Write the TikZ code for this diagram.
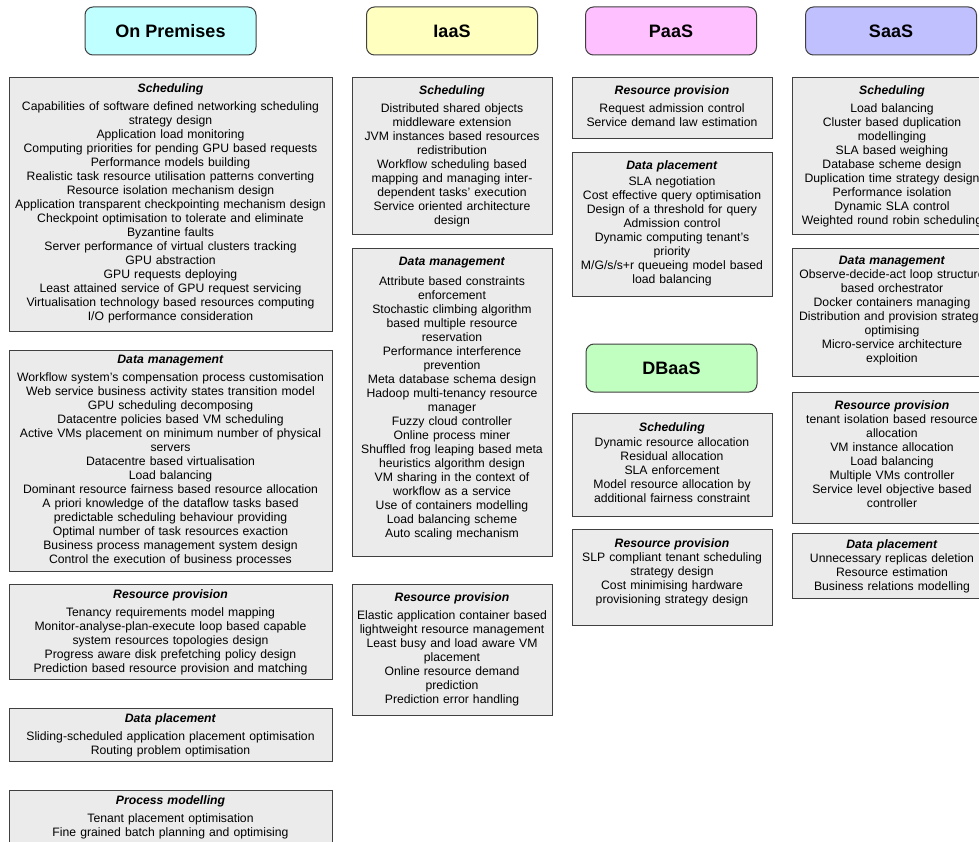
\documentclass[tikz,border=0pt]{standalone}
\usepackage{fontspec}
\setmainfont{Liberation Sans}

\definecolor{premfill}{HTML}{C0FFFF}
\definecolor{iaasfill}{HTML}{FFFFC0}
\definecolor{paasfill}{HTML}{FFC0FF}
\definecolor{saasfill}{HTML}{C0C0FF}
\definecolor{dbaasfill}{HTML}{C0FFC0}
\definecolor{boxgray}{HTML}{EBEBEB}
\definecolor{edgegray}{HTML}{404040}

\tikzset{
  hdrbox/.style={draw=edgegray, line width=1pt, rounded corners=8pt,
    minimum width=171pt, minimum height=48pt,
    font=\fontsize{18}{20}\selectfont\bfseries},
  catbox/.style={draw=edgegray, fill=boxgray, line width=1pt, anchor=north,
    align=center, inner xsep=2pt, inner ysep=8pt,
    font=\fontsize{12.2}{14}\selectfont},
  premcat/.style={catbox, text width=319pt, inner ysep=5pt},
  smallcat/.style={catbox, text width=196pt},
}

\begin{document}
\begin{tikzpicture}[x=1pt,y=-1pt]
  % page frame (979 x 842)
  \useasboundingbox (0,0) rectangle (979,842);
  \clip (0,0) rectangle (979,842);
  \fill[white] (0,0) rectangle (979,842);

  % Headers
  \node[hdrbox, fill=premfill] (prem) at (170.5,31) {On Premises};
  \node[hdrbox, fill=iaasfill] (iaas) at (452,31) {IaaS};
  \node[hdrbox, fill=paasfill] (paas) at (671,31) {PaaS};
  \node[hdrbox, fill=saasfill] (saas) at (891,31) {SaaS};
  \node[hdrbox, fill=dbaasfill] (dbaas) at (671.5,368) {DBaaS};

  % On Premises column
  \node[premcat, inner ysep=6pt] (premsched) at (170.5,77) {\textbf{\textit{Scheduling}}\\[4pt]
    Capabilities of software defined networking scheduling\\
    strategy design\\
    Application load monitoring\\
    Computing priorities for pending GPU based requests\\
    Performance models building\\
    Realistic task resource utilisation patterns converting\\
    Resource isolation mechanism design\\
    Application transparent checkpointing mechanism design\\
    Checkpoint optimisation to tolerate and eliminate\\
    Byzantine faults\\
    Server performance of virtual clusters tracking\\
    GPU abstraction\\
    GPU requests deploying\\
    Least attained service of GPU request servicing\\
    Virtualisation technology based resources computing\\
    I/O performance consideration\rule[-5pt]{0pt}{5pt}};
  \node[premcat] (premdata) at (170.5,350) {\textbf{\textit{Data management}}\\[4pt]
    Workflow system’s compensation process customisation\\
    Web service business activity states transition model\\
    GPU scheduling decomposing\\
    Datacentre policies based VM scheduling\\
    Active VMs placement on minimum number of physical\\
    servers\\
    Datacentre based virtualisation\\
    Load balancing\\
    Dominant resource fairness based resource allocation\\
    A priori knowledge of the dataflow tasks based\\
    predictable scheduling behaviour providing\\
    Optimal number of task resources exaction\\
    Business process management system design\\
    Control the execution of business processes};
  \node[premcat] (premres) at (170.5,584) {\textbf{\textit{Resource provision}}\\[4pt]
    Tenancy requirements model mapping\\
    Monitor-analyse-plan-execute loop based capable\\
    system resources topologies design\\
    Progress aware disk prefetching policy design\\
    Prediction based resource provision and matching};
  \node[premcat] (premplace) at (170.5,708) {\textbf{\textit{Data placement}}\\[4pt]
    Sliding-scheduled application placement optimisation\\
    Routing problem optimisation};
  \node[premcat] (premproc) at (170.5,790) {\textbf{\textit{Process modelling}}\\[4pt]
    Tenant placement optimisation\\
    Fine grained batch planning and optimising};

  % IaaS column
  \node[smallcat] (iaassched) at (452,77) {\textbf{\textit{Scheduling}}\\[4pt]
    Distributed shared objects\\
    middleware extension\\
    JVM instances based resources\\
    redistribution\\
    Workflow scheduling based\\
    mapping and managing inter-\\
    dependent tasks’ execution\\
    Service oriented architecture\\
    design};
  \node[smallcat, inner ysep=9pt] (iaasdata) at (452,248) {\textbf{\textit{Data management}}\\[6pt]
    Attribute based constraints\\
    enforcement\\
    Stochastic climbing algorithm\\
    based multiple resource\\
    reservation\\
    Performance interference\\
    prevention\\
    Meta database schema design\\
    Hadoop multi-tenancy resource\\
    manager\\
    Fuzzy cloud controller\\
    Online process miner\\
    Shuffled frog leaping based meta\\
    heuristics algorithm design\\
    VM sharing in the context of\\
    workflow as a service\\
    Use of containers modelling\\
    Load balancing scheme\\
    Auto scaling mechanism\rule[-10pt]{0pt}{10pt}};
  \node[smallcat] (iaasres) at (452,584) {\textbf{\textit{Resource provision}}\\[4pt]
    Elastic application container based\\
    lightweight resource management\\
    Least busy and load aware VM\\
    placement\\
    Online resource demand\\
    prediction\\
    Prediction error handling\rule[-4pt]{0pt}{4pt}};

  % PaaS column
  \node[smallcat] (paasres) at (672,77) {\textbf{\textit{Resource provision}}\\[4pt]
    Request admission control\\
    Service demand law estimation\rule[-4pt]{0pt}{4pt}};
  \node[smallcat] (paasplace) at (672,152) {\textbf{\textit{Data placement}}\\[2pt]
    SLA negotiation\\
    Cost effective query optimisation\\
    Design of a threshold for query\\
    Admission control\\
    Dynamic computing tenant’s\\
    priority\\
    M/G/s/s+r queueing model based\\
    load balancing\rule[-5pt]{0pt}{5pt}};

  % DBaaS boxes
  \node[smallcat, inner ysep=9pt] (dbsched) at (672,413) {\textbf{\textit{Scheduling}}\\[1pt]
    Dynamic resource allocation\\
    Residual allocation\\
    SLA enforcement\\
    Model resource allocation by\\
    additional fairness constraint\rule[-5pt]{0pt}{5pt}};
  \node[smallcat, inner ysep=9pt] (dbres) at (672,529) {\textbf{\textit{Resource provision}}\\
    SLP compliant tenant scheduling\\
    strategy design\\
    Cost minimising hardware\\
    provisioning strategy design\rule[-13pt]{0pt}{13pt}};

  % SaaS column
  \node[smallcat] (saassched) at (892,77) {\textbf{\textit{Scheduling}}\\[4pt]
    Load balancing\\
    Cluster based duplication\\
    modellinging\\
    SLA based weighing\\
    Database scheme design\\
    Duplication time strategy design\\
    Performance isolation\\
    Dynamic SLA control\\
    Weighted round robin scheduling};
  \node[smallcat] (saasdata) at (892,248) {\textbf{\textit{Data management}}\\
    Observe-decide-act loop structure\\
    based orchestrator\\
    Docker containers managing\\
    Distribution and provision strategy\\
    optimising\\
    Micro-service architecture\\
    exploition\rule[-6pt]{0pt}{6pt}};
  \node[smallcat] (saasres) at (892,392) {\textbf{\textit{Resource provision}}\\
    tenant isolation based resource\\
    allocation\\
    VM instance allocation\\
    Load balancing\\
    Multiple VMs controller\\
    Service level objective based\\
    controller\rule[-8pt]{0pt}{8pt}};
  \node[smallcat, inner ysep=6pt] (saasplace) at (892,533) {\textbf{\textit{Data placement}}\\
    Unnecessary replicas deletion\\
    Resource estimation\\
    Business relations modelling};
\end{tikzpicture}
\end{document}
